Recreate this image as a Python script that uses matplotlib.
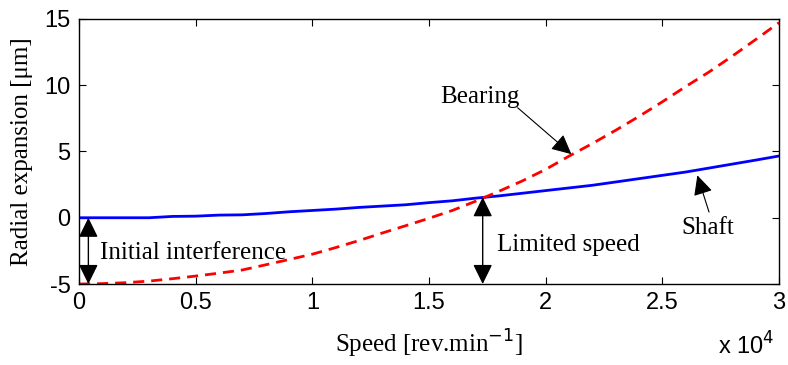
import numpy as np
import matplotlib.pyplot as plt
from matplotlib.ticker import FuncFormatter

# Speed in rev/min and radial expansion in micrometres
speed = np.arange(0, 31000, 1000)
shaft = [0, 0, 0, 0, 0.1, 0.12, 0.2, 0.22, 0.32, 0.45, 0.55, 0.65, 0.78, 0.88,
         0.98, 1.14, 1.28, 1.48, 1.65, 1.85, 2.05, 2.25, 2.45, 2.7, 2.95, 3.2,
         3.45, 3.75, 4.05, 4.35, 4.66]
bearing = [-5, -4.97, -4.9, -4.78, -4.6, -4.4, -4.18, -3.94, -3.55, -3.15,
           -2.75, -2.25, -1.72, -1.15, -0.6, -0.04, 0.55, 1.25, 2.0, 2.78,
           3.65, 4.65, 5.6, 6.6, 7.65, 8.75, 9.9, 11.0, 12.2, 13.45, 14.72]
xticks = [0, 5000, 10000, 15000, 20000, 25000, 30000]
yticks = [-5, 0, 5, 10, 15]

sans = 'Liberation Sans'
serif = 'Liberation Serif'
plt.rcParams['axes.unicode_minus'] = False

fig = plt.figure(figsize=(7.88, 3.65), dpi=100)
ax = fig.add_axes([0.1003, 0.2219, 0.8883, 0.7261])

ax.plot(speed, shaft, color='#0000ff', lw=2.0)
ax.plot(speed, bearing, color='#ff0000', lw=2.0, linestyle=(0, (4, 2.5)))

ax.set_xlim(0, 30000)
ax.set_ylim(-5, 15)
ax.set_xticks(xticks)
ax.set_yticks(yticks)
ax.xaxis.set_major_formatter(FuncFormatter(lambda v, p: '%g' % (v / 1e4)))
ax.tick_params(direction='in', length=5, width=0.8, top=True, right=True,
               labelsize=17, pad=6)
for lab in ax.get_xticklabels() + ax.get_yticklabels():
    lab.set_fontfamily(sans)
for s in ax.spines.values():
    s.set_linewidth(1.0)

ax.set_xlabel('Speed [rev.min$^{-1}$]', fontsize=18, family=serif, labelpad=10)
ax.set_ylabel('Radial expansion [\u03bcm]', fontsize=18, family=serif, labelpad=8)
fig.text(0.911, 0.028, 'x 10$^4$', fontsize=17, family=sans)

# double arrows
dbl = dict(arrowstyle='<|-|>,head_length=0.55,head_width=0.27', color='black',
           lw=1.0, mutation_scale=22, shrinkA=0, shrinkB=0)
ax.annotate('', xy=(400, 0), xytext=(400, -5), arrowprops=dbl)
ax.annotate('', xy=(17300, 1.55), xytext=(17300, -5), arrowprops=dbl)
ax.text(900, -2.65, 'Initial interference', fontsize=18, family=serif, va='center')
ax.text(17900, -2.05, 'Limited speed', fontsize=18, family=serif, va='center')

one = dict(arrowstyle='-|>,head_length=0.55,head_width=0.27', color='black',
           lw=0.8, mutation_scale=22, shrinkA=0, shrinkB=0)
ax.text(15470, 9.1, 'Bearing', fontsize=18, family=serif, va='center')
ax.annotate('', xy=(21100, 4.8), xytext=(18800, 8.3), arrowprops=one)
ax.text(25800, -0.77, 'Shaft', fontsize=18, family=serif, va='center')
ax.annotate('', xy=(26500, 3.2), xytext=(27000, 0.43), arrowprops=one)

fig.savefig('out.png', dpi=100)
